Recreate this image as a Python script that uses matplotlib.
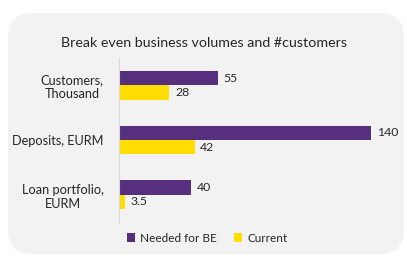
import matplotlib.pyplot as plt
import numpy as np
from matplotlib.patches import FancyBboxPatch

categories = ['Customers,\nThousand', 'Deposits, EURM', 'Loan portfolio,\nEURM']
needed = [55, 140, 40]
current = [28, 42, 3.5]
needed_labels = ['55', '140', '40']
current_labels = ['28', '42', '3.5']

purple = '#56307E'
yellow = '#FFDD00'
txt = '#262626'

plt.rcParams['font.family'] = ['Lato', 'DejaVu Sans']

fig = plt.figure(figsize=(4.07, 2.58), dpi=100)
W, H = 407, 258

# rounded grey panel behind the chart
panel = FancyBboxPatch((8 / W, 4 / H), 396 / W, 241 / H,
                       boxstyle='round,pad=0,rounding_size=0.06',
                       transform=fig.transFigure, facecolor='#F2F2F2',
                       edgecolor='none', mutation_aspect=W / H, zorder=-5)
fig.patches.append(panel)

ax = fig.add_axes([119 / W, 36 / H, 281 / W, 164 / H])
ax.set_zorder(2)
ax.patch.set_alpha(0)

y = np.arange(len(categories))
h = 0.26
b1 = ax.barh(y - h / 2, needed, height=h, color=purple, label='Needed for BE')
b2 = ax.barh(y + h / 2, current, height=h, color=yellow, label='Current')
ax.bar_label(b1, labels=needed_labels, padding=4, fontsize=8.8, color=txt)
ax.bar_label(b2, labels=current_labels, padding=4, fontsize=8.8, color=txt)

ax.set_xlim(0, 156)
ax.set_ylim(2.5, -0.5)
ax.set_yticks(y)
ax.set_yticklabels(categories, fontsize=9.2, color=txt, ha='right', multialignment='center')
ax.tick_params(axis='y', length=0, pad=11)
ax.set_xticks([])
for s in ['top', 'right', 'bottom']:
    ax.spines[s].set_visible(False)
ax.spines['left'].set_color('#D9D9D9')

fig.text(204 / W, 1 - 43 / H, 'Break even business volumes and #customers',
         ha='center', va='center', fontsize=10.3, color=txt)

leg = fig.legend(handles=[b1, b2], loc='center', bbox_to_anchor=(207 / W, 1 - 238 / H),
                 ncol=2, frameon=False, fontsize=8.5, handlelength=0.7, handleheight=0.7,
                 handletextpad=0.4, columnspacing=1.5, labelcolor=txt)
leg.set_zorder(3)

fig.savefig('out.png', dpi=100)
